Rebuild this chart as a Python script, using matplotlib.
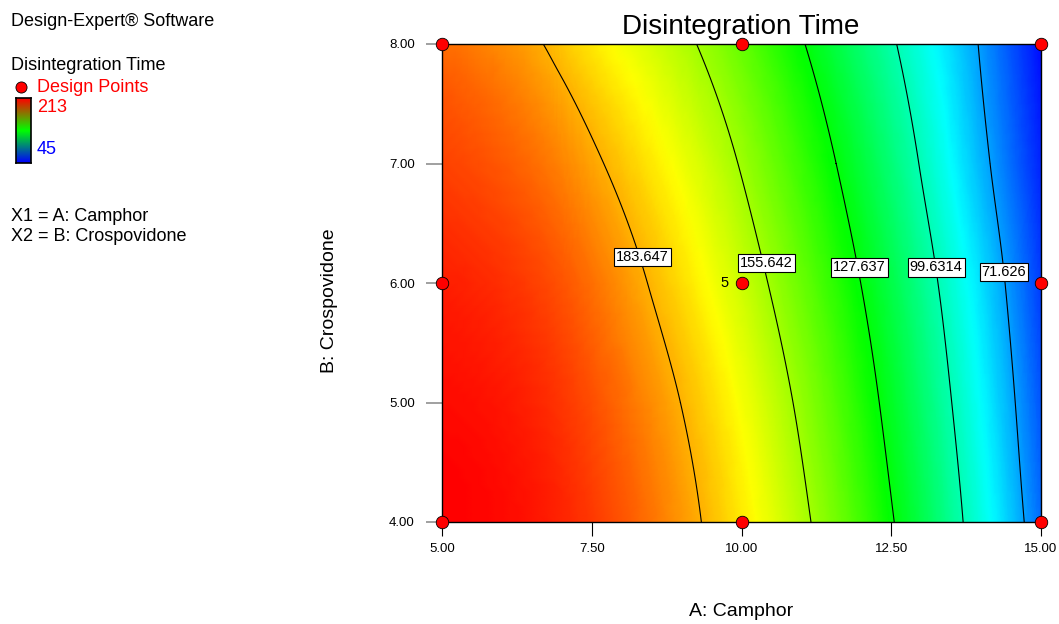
import numpy as np
import matplotlib
matplotlib.use('Agg')
import matplotlib.pyplot as plt
import matplotlib.tri as mtri
from matplotlib.colors import LinearSegmentedColormap

plt.rcParams['font.family'] = ['Liberation Sans', 'DejaVu Sans']

# B: Crospovidone rows where the contours were read
b_rows = [4.0, 5.0, 6.0, 7.0, 8.0]

# contour levels of Disintegration Time
levels = [183.647, 155.642, 127.637, 99.6314, 71.626]

# A: Camphor value where each contour crosses each row (rows as in b_rows)
x_lvl1 = [9.33, 8.98, 8.43, 7.70, 6.69]
x_lvl2 = [11.16, 10.86, 10.44, 9.94, 9.25]
x_lvl3 = [12.55, 12.30, 11.99, 11.58, 11.06]
x_lvl4 = [13.70, 13.51, 13.28, 12.96, 12.59]
x_lvl5 = [14.72, 14.57, 14.40, 14.15, 13.95]
cross_x = [x_lvl1, x_lvl2, x_lvl3, x_lvl4, x_lvl5]

# response read at fixed A values (rows as in b_rows)
a_fixed = [5.0, 7.0, 15.0]
z_a5 = [213, 211, 208, 202, 195]
z_a7 = [207, 204, 199, 191, 180]
z_a15 = [63, 59, 55, 51, 47]
z_fixed = [z_a5, z_a7, z_a15]

# design points
design_a = [5, 5, 5, 10, 10, 10, 15, 15, 15]
design_b = [4, 6, 8, 4, 6, 8, 4, 6, 8]

z_min, z_max = 45, 213

# collect the readings as scattered points
pts_x, pts_y, pts_z = [], [], []
for lvl, xs in zip(levels, cross_x):
    pts_x += xs
    pts_y += b_rows
    pts_z += [lvl] * len(b_rows)
for a, zs in zip(a_fixed, z_fixed):
    pts_x += [a] * len(b_rows)
    pts_y += b_rows
    pts_z += zs
pts_x = np.array(pts_x, dtype=float)
pts_y = np.array(pts_y, dtype=float)
pts_z = np.array(pts_z, dtype=float)

tri = mtri.Triangulation(pts_x, pts_y)
interp = mtri.CubicTriInterpolator(tri, pts_z, kind='min_E')
refiner = mtri.UniformTriRefiner(tri)
tri_f, z_f = refiner.refine_field(pts_z, triinterpolator=interp, subdiv=4)

cmap = LinearSegmentedColormap.from_list(
    'de', ['#0000ff', '#00ffff', '#00ff00', '#ffff00', '#ff0000'])

W, H = 1059, 624
fig = plt.figure(figsize=(W / 100, H / 100), dpi=100)
ax = fig.add_axes([442 / W, 1 - 522 / H, 599 / W, 478 / H])

ax.tripcolor(tri_f, z_f, shading='gouraud', cmap=cmap, vmin=z_min, vmax=z_max)
ax.tricontour(tri_f, z_f, levels=sorted(levels), colors='k', linewidths=0.8)

# contour labels
label_pos = [(8.35, 6.22), (10.42, 6.17), (11.97, 6.13), (13.25, 6.13), (14.38, 6.09)]
for lvl, (lx, ly) in zip(levels, label_pos):
    ax.text(lx, ly, f'{lvl:g}', ha='center', va='center', fontsize=10.5,
            bbox=dict(facecolor='white', edgecolor='black', linewidth=0.8, pad=1.5),
            zorder=5)

ax.plot(design_a, design_b, 'o', color='red', markeredgecolor='black',
        markeredgewidth=0.6, markersize=9, clip_on=False, zorder=6)
ax.text(9.72, 6.0, '5', ha='center', va='center', fontsize=10.5, zorder=6)

ax.set_xlim(5, 15)
ax.set_ylim(4, 8)
ax.set_xticks([5, 7.5, 10, 12.5, 15])
ax.set_xticklabels(['5.00', '7.50', '10.00', '12.50', '15.00'])
ax.set_yticks([4, 5, 6, 7, 8])
ax.set_yticklabels(['4.00', '5.00', '6.00', '7.00', '8.00'])
ax.tick_params(axis='x', direction='out', length=10, width=0.8, pad=5,
               labelsize=9.5, color='black')
ax.tick_params(axis='y', direction='out', length=11.5, width=1.2, pad=8,
               labelsize=9.5, color='#909090')
for sp in ax.spines.values():
    sp.set_linewidth(1.0)
    sp.set_zorder(4)

fig.text(741 / W, 1 - 27 / H, 'Disintegration Time', ha='center', va='center',
         fontsize=20)
fig.text(741 / W, 1 - 612 / H, 'A: Camphor', ha='center', va='center',
         fontsize=14)
fig.text(329 / W, 1 - 301 / H, 'B: Crospovidone', ha='center', va='center',
         fontsize=14, rotation=90)

# left side legend
fig.text(11 / W, 1 - 21.5 / H, 'Design-Expert\u00ae Software', va='center', fontsize=13)
fig.text(11 / W, 1 - 65 / H, 'Disintegration Time', va='center', fontsize=13)
fig.text(37 / W, 1 - 87 / H, 'Design Points', va='center', fontsize=13, color='red')
fig.text(37 / W, 1 - 108 / H, f'{z_max}', va='center', fontsize=13, color='red')
fig.text(37 / W, 1 - 150 / H, f'{z_min}', va='center', fontsize=13, color='blue')
fig.text(11 / W, 1 - 216.5 / H, 'X1 = A: Camphor', va='center', fontsize=13)
fig.text(11 / W, 1 - 236.5 / H, 'X2 = B: Crospovidone', va='center', fontsize=13)

dot_ax = fig.add_axes([0, 0, 1, 1], facecolor='none')
dot_ax.set_xlim(0, W)
dot_ax.set_ylim(H, 0)
dot_ax.axis('off')
dot_ax.plot([20.7], [86.7], 'o', color='red', markeredgecolor='black',
            markeredgewidth=0.6, markersize=8)

cb_ax = fig.add_axes([16 / W, 1 - 163 / H, 15 / W, 65 / H])
grad = np.linspace(1, 0, 100).reshape(-1, 1)
cb_cmap = LinearSegmentedColormap.from_list('cb', ['#0000ff', '#00ff00', '#ff0000'])
cb_ax.imshow(grad, aspect='auto', cmap=cb_cmap, vmin=0, vmax=1)
cb_ax.set_xticks([])
cb_ax.set_yticks([])
for sp in cb_ax.spines.values():
    sp.set_linewidth(1.2)

fig.savefig('out.png', dpi=100)
